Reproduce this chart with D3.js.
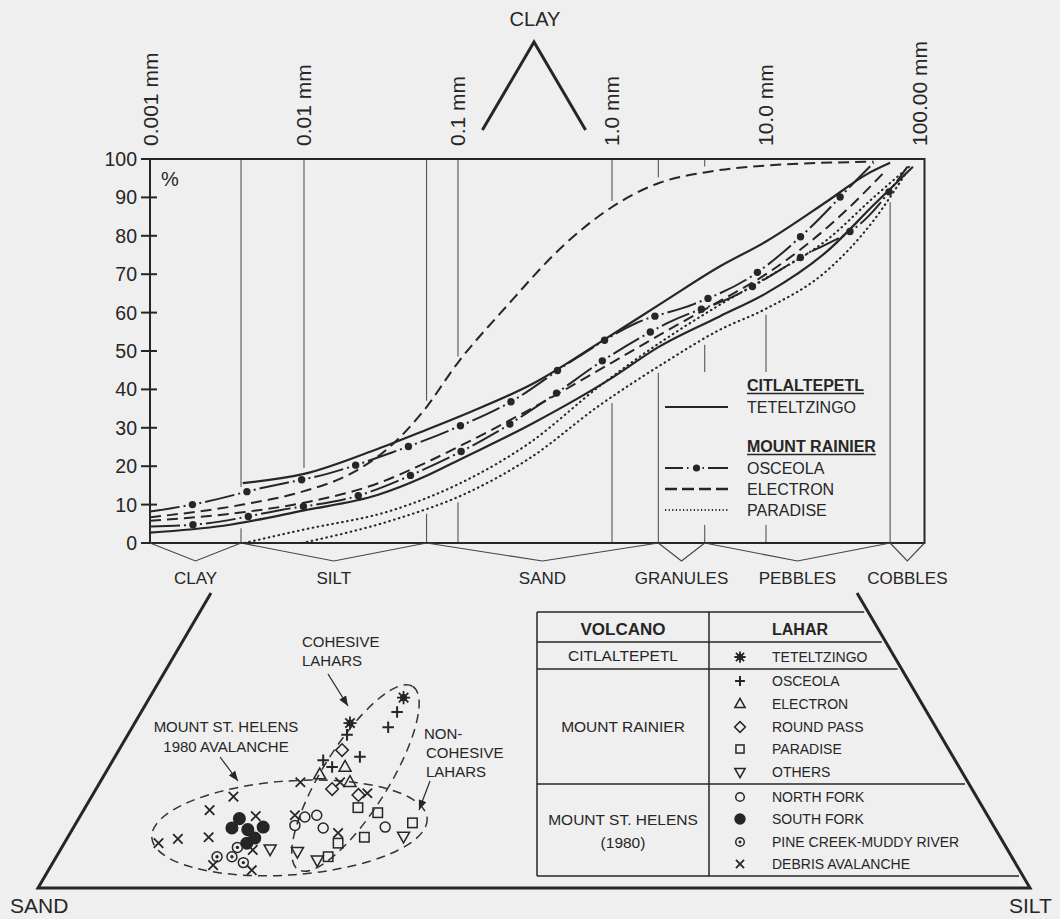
<!DOCTYPE html>
<html><head><meta charset="utf-8">
<script src="https://cdn.jsdelivr.net/npm/d3@7"></script>
<style>
html,body{margin:0;padding:0;background:#efefef;}
svg{display:block;font-family:"Liberation Sans",Arial,Helvetica,sans-serif;}
</style></head><body>
<svg id="chart" width="1060" height="919"></svg>
<script>
// ================= DATA =================
const sizeTicks = [0.001, 0.01, 0.1, 1, 10, 100];
const sizeTickLabels = ["0.001 mm", "0.01 mm", "0.1 mm", "1.0 mm", "10.0 mm", "100.00 mm"];
const percentTicks = [0, 10, 20, 30, 40, 50, 60, 70, 80, 90, 100];
const gradeClasses = ["CLAY", "SILT", "SAND", "GRANULES", "PEBBLES", "COBBLES"];
const gradeBounds = [0.001, 0.0039, 0.0625, 2, 4, 64, 107];
const gridSizes = [0.0039, 0.01, 0.0625, 0.1, 1, 2, 4, 10, 64];

// cumulative curves: [grain size mm, cumulative %]
const teteltzingoCurves = [
  [[0.004,15.6],[0.01,18],[0.03,24.5],[0.0625,29.5],[0.115,33.8],[0.31,41.6],[0.84,52.3],[2.2,63],[5,72],[10,78.5],[25,89],[45,96],[64,99]],
  [[0.001,2.7],[0.003,4.5],[0.01,8.5],[0.03,12.5],[0.0625,17.5],[0.1,21.5],[0.3,31],[1,43],[2,51],[5,59],[10,65],[25,76],[50,88],[90,98]]
];
const osceolaCurves = [
  [[0.001,8.2],[0.002,10.2],[0.0053,14.3],[0.0147,18.2],[0.038,23.7],[0.089,29.4],[0.23,37.2],[0.53,47],[1.44,57.3],[3.4,62.2],[8.1,69.5],[19,81.8],[37.6,94],[50,99]],
  [[0.001,4.3],[0.0022,5],[0.0071,8.6],[0.022,12.2],[0.061,19.3],[0.17,28.4],[0.4,38],[0.91,48],[2.3,57.3],[6.6,64.8],[17,74.5],[46,85],[83,98]]
];
const electronCurves = [
  [[0.001,6.7],[0.004,10],[0.01,13.5],[0.02,18],[0.036,25],[0.06,34.5],[0.1,47],[0.2,61],[0.5,78],[1,87.5],[2,93.7],[4,96.5],[10,98.3],[50,99.3]],
  [[0.001,5.8],[0.004,8],[0.01,10.5],[0.03,15.5],[0.0625,21],[0.1,25],[0.3,35],[1,47],[2,54],[5,63],[10,70],[30,85],[60,97]]
];
const paradiseCurves = [
  [[0.0041,0],[0.0097,3.4],[0.038,8.6],[0.114,16.4],[0.29,26],[0.84,41],[2.2,53],[5,62],[10,69],[25,79],[50,90],[85,98]],
  [[0.0097,0],[0.038,6],[0.114,13],[0.29,22],[0.84,36],[2.2,47],[5,55.5],[10,61],[25,71],[50,84],[80,96]]
];

// ternary points: [silt %, clay %]
const teteltzingoPts = [[25.6,22.5],[21.7,19.5]];
const osceolaPts = [[25.8,20.8],[25.8,19.0],[22.1,18.1],[24.7,15.5],[21.2,15.1],[22.5,14.3]];
const electronPts = [[21.7,13.4],[23.8,14.3],[25.2,12.5]];
const roundPassPts = [[22.5,16.3],[23.8,11.7],[26.8,11.0]];
const paradisePts = [[27.5,9.5],[29.8,8.9],[33.9,7.7],[29.9,6.0],[27.6,5.3],[27.4,3.7]];
const othersPts = [[33.8,6.1],[21.1,4.6],[24.0,4.3],[26.5,3.3]];
const northForkPts = [[22.7,8.4],[23.8,8.6],[22.2,7.4],[25.2,7.1],[31.4,7.2]];
const southForkPts = [[16.2,8.2],[16.0,7.1],[17.7,6.9],[19.1,7.2],[18.9,5.9],[18.4,5.3]];
const pineCreekPts = [[17.7,4.8],[16.2,3.7],[17.7,3.7],[19.2,3.0]];
const avalanchePts = [[9.5,5.3],[11.2,5.8],[12.7,9.2],[14.3,10.8],[20.2,12.5],[17.7,8.5],[14.2,6.0],[21.6,8.6],[19.4,4.5],[16.3,2.7],[20.5,2.1],[24.2,12.5],[27.6,11.2],[27.0,6.5]];

const tableVolcanoes = ["CITLALTEPETL", "MOUNT RAINIER", "MOUNT ST. HELENS"];
const tableLahars = ["TETELTZINGO","OSCEOLA","ELECTRON","ROUND PASS","PARADISE","OTHERS","NORTH FORK","SOUTH FORK","PINE CREEK-MUDDY RIVER","DEBRIS  AVALANCHE"];
const tableSymbols = ["star","plus","tri","diamond","square","tridown","circle","disc","bull","x"];

// ================= DRAW =================
const ink = "#262626";
const svg = d3.select("#chart");
const x = d3.scaleLog().domain([0.001, 107]).range([150, 924.5]);
const y = d3.scaleLinear().domain([0, 100]).range([543, 159]);

// top size labels (rotated)
svg.append("g").selectAll("text").data(sizeTicks).join("text")
  .attr("transform", d => `translate(${x(d) + 7.5},146) rotate(-90)`)
  .attr("font-size", 21).attr("fill", ink)
  .text((d, i) => sizeTickLabels[i]);

// grid lines with gaps around curve bundle and legend
const allCurves = [...teteltzingoCurves, ...osceolaCurves, ...electronCurves, ...paradiseCurves];
function valAt(c, m) {
  if (m < c[0][0] || m > c[c.length - 1][0]) return null;
  for (let i = 1; i < c.length; i++) {
    if (m <= c[i][0]) {
      const a = c[i - 1], b = c[i];
      const t = (Math.log10(m) - Math.log10(a[0])) / (Math.log10(b[0]) - Math.log10(a[0]));
      return a[1] + t * (b[1] - a[1]);
    }
  }
  return c[c.length - 1][1];
}
const legendBox = {x0: 662, x1: 885, y0: 372, y1: 525};
const gridG = svg.append("g");
gridSizes.forEach(g => {
  const vx = x(g);
  const vals = allCurves.map(c => valAt(c, g)).filter(v => v !== null);
  let segs = [[y(100), y(0)]];
  if (vals.length) segs = [[y(100), y(d3.max(vals)) - 6], [y(d3.min(vals)) + 6, y(0)]];
  if (vx > legendBox.x0 && vx < legendBox.x1) {
    segs = segs.flatMap(([a, b]) => {
      const out = [];
      if (a < legendBox.y0) out.push([a, Math.min(b, legendBox.y0)]);
      if (b > legendBox.y1) out.push([Math.max(a, legendBox.y1), b]);
      return out;
    });
  }
  segs.filter(s => s[1] - s[0] > 1).forEach(s => {
    gridG.append("line").attr("x1", vx).attr("x2", vx).attr("y1", s[0]).attr("y2", s[1])
      .attr("stroke", "#555").attr("stroke-width", 1.1);
  });
});

// frame
svg.append("rect").attr("x", x(0.001)).attr("y", y(100))
  .attr("width", x(107) - x(0.001)).attr("height", y(0) - y(100))
  .attr("fill", "none").attr("stroke", ink).attr("stroke-width", 2);

// y axis ticks
const yt = svg.append("g");
percentTicks.forEach(t => {
  yt.append("line").attr("x1", 141).attr("x2", 157).attr("y1", y(t)).attr("y2", y(t))
    .attr("stroke", ink).attr("stroke-width", 2);
  yt.append("text").attr("x", 137).attr("y", y(t)).attr("dy", "0.36em")
    .attr("text-anchor", "end").attr("font-size", 19.5).attr("fill", ink).text(t);
});
svg.append("text").attr("x", 161).attr("y", 186).attr("font-size", 20).attr("fill", ink).text("%");

// grade brackets & labels
const gb = svg.append("g");
gradeClasses.forEach((name, i) => {
  const a = x(gradeBounds[i]), b = x(gradeBounds[i + 1]), m = (a + b) / 2;
  gb.append("path").attr("d", `M${a},${y(0)}L${m},561L${b},${y(0)}`)
    .attr("fill", "none").attr("stroke", "#444").attr("stroke-width", 1.1);
  gb.append("text").attr("x", m).attr("y", 584).attr("text-anchor", "middle")
    .attr("font-size", 17).attr("fill", ink).text(name);
});

// curves
const line = d3.line().x(d => x(d[0])).y(d => y(d[1])).curve(d3.curveMonotoneX);
const styles = {
  solid: {dash: null, w: 2.2, cap: "butt"},
  osceola: {dash: "30,4,2,14,2,4", w: 2, cap: "butt"},
  electron: {dash: "11,6", w: 2, cap: "butt"},
  paradise: {dash: "0.6,4.4", w: 2.1, cap: "round"}
};
const cg = svg.append("g");
function drawCurves(curves, st) {
  return curves.map(c => cg.append("path").attr("d", line(c)).attr("fill", "none")
    .attr("stroke", ink).attr("stroke-width", st.w).attr("stroke-dasharray", st.dash)
    .attr("stroke-linecap", st.cap).node());
}
drawCurves(paradiseCurves, styles.paradise);
drawCurves(electronCurves, styles.electron);
drawCurves(teteltzingoCurves, styles.solid);
const oNodes = drawCurves(osceolaCurves, styles.osceola);
oNodes.forEach(n => {
  const L = n.getTotalLength();
  for (let d = 43; d < L - 4; d += 56) {
    const p = n.getPointAtLength(d);
    cg.append("circle").attr("cx", p.x).attr("cy", p.y).attr("r", 3.7).attr("fill", ink);
  }
});

// in-plot legend
const lg = svg.append("g").attr("fill", ink);
function heading(txt, yb) {
  const t = lg.append("text").attr("x", 747).attr("y", yb).attr("font-size", 16)
    .attr("font-weight", "bold").text(txt);
  const w = t.node().getComputedTextLength();
  lg.append("line").attr("x1", 747).attr("x2", 747 + w).attr("y1", yb + 2.5).attr("y2", yb + 2.5)
    .attr("stroke", ink).attr("stroke-width", 1.6);
}
function item(txt, yb, st, withDot) {
  const ly = yb - 6;
  lg.append("line").attr("x1", 665).attr("x2", 728).attr("y1", ly).attr("y2", ly)
    .attr("stroke", ink).attr("stroke-width", st.w).attr("stroke-dasharray", st.dash)
    .attr("stroke-linecap", st.cap);
  if (withDot) lg.append("circle").attr("cx", 696.5).attr("cy", ly).attr("r", 3.6);
  lg.append("text").attr("x", 747).attr("y", yb).attr("font-size", 16).text(txt);
}
heading("CITLALTEPETL", 391);
item("TETELTZINGO", 413, styles.solid, false);
heading("MOUNT RAINIER", 452);
item("OSCEOLA", 474, {dash: "18,4,1.5,14,1.5,4,22", w: 2.2, cap: "butt"}, true);
item("ELECTRON", 495, {dash: "12,5", w: 2.4, cap: "butt"}, false);
item("PARADISE", 516, {dash: "1.2,2.4", w: 2, cap: "butt"}, false);

// ================= TERNARY =================
const V = {sand: [38, 888], silt: [1030, 888], clay: [534, 42]};
function proj(silt, clay) {
  const sand = 100 - silt - clay;
  return [(sand * V.sand[0] + silt * V.silt[0] + clay * V.clay[0]) / 100,
          (sand * V.sand[1] + silt * V.silt[1] + clay * V.clay[1]) / 100];
}
const clayAtY = yy => (V.sand[1] - yy) / (V.sand[1] - V.clay[1]) * 100;
const tg = svg.append("g");
const cLow = clayAtY(593), cTop = clayAtY(130);
const Lb = proj(0, cLow), Rb = proj(100 - cLow, cLow);
const Lt = proj(0, cTop), Rt = proj(100 - cTop, cTop);
tg.append("path").attr("d", `M${Lb}L${V.sand}L${V.silt}L${Rb}`)
  .attr("fill", "none").attr("stroke", ink).attr("stroke-width", 3).attr("stroke-linejoin", "miter");
tg.append("path").attr("d", `M${Lt}L${V.clay}L${Rt}`)
  .attr("fill", "none").attr("stroke", ink).attr("stroke-width", 3);
svg.append("text").attr("x", 535).attr("y", 26).attr("text-anchor", "middle")
  .attr("font-size", 20).attr("fill", ink).text("CLAY");
svg.append("text").attr("x", 10).attr("y", 913).attr("font-size", 21).attr("fill", ink).text("SAND");
svg.append("text").attr("x", 1009).attr("y", 913).attr("font-size", 21).attr("fill", ink).text("SILT");

// ellipses (annotation)
function ellipse(center, rx, ry, rot) {
  const [cx, cy] = proj(center[0], center[1]);
  tg.append("ellipse").attr("cx", 0).attr("cy", 0).attr("rx", rx).attr("ry", ry)
    .attr("transform", `translate(${cx},${cy}) rotate(${rot})`)
    .attr("fill", "none").attr("stroke", "#333").attr("stroke-width", 1.5)
    .attr("stroke-dasharray", "9,6");
}
ellipse([21.8, 7.1], 138, 47, -4);
ellipse([25.5, 13.0], 108, 33, -58);

// symbols
function symbol(g, type, cx, cy, k) {
  const r = 5 * k;
  const s = g.append("g").attr("transform", `translate(${cx},${cy})`)
    .attr("stroke", ink).attr("fill", "none").attr("stroke-width", 1.5);
  switch (type) {
    case "star":
      s.append("path").attr("d", `M${-1.25*r},0H${1.25*r}M0,${-1.25*r}V${1.25*r}M${-0.9*r},${-0.9*r}L${0.9*r},${0.9*r}M${-0.9*r},${0.9*r}L${0.9*r},${-0.9*r}`).attr("stroke-width", 1.8);
      s.append("circle").attr("r", 0.55 * r).attr("fill", ink); break;
    case "plus":
      s.append("path").attr("d", `M${-1.1*r},0H${1.1*r}M0,${-1.1*r}V${1.1*r}`).attr("stroke-width", 2); break;
    case "tri":
      s.append("path").attr("d", `M0,${-1.25*r}L${1.15*r},${0.8*r}L${-1.15*r},${0.8*r}Z`); break;
    case "tridown":
      s.append("path").attr("d", `M0,${1.25*r}L${1.15*r},${-0.8*r}L${-1.15*r},${-0.8*r}Z`); break;
    case "diamond":
      s.append("path").attr("d", `M0,${-1.2*r}L${1.2*r},0L0,${1.2*r}L${-1.2*r},0Z`); break;
    case "square":
      s.append("rect").attr("x", -0.9*r).attr("y", -0.9*r).attr("width", 1.8*r).attr("height", 1.8*r); break;
    case "circle":
      s.append("circle").attr("r", 0.95 * r); break;
    case "disc":
      s.append("circle").attr("r", 1.1 * r).attr("fill", ink); break;
    case "bull":
      s.append("circle").attr("r", 0.95 * r);
      s.append("circle").attr("r", 0.32 * r).attr("fill", ink).attr("stroke", "none"); break;
    case "x":
      s.append("path").attr("d", `M${-0.9*r},${-0.9*r}L${0.9*r},${0.9*r}M${-0.9*r},${0.9*r}L${0.9*r},${-0.9*r}`).attr("stroke-width", 1.8); break;
  }
}
const ptGroups = [
  [othersPts, "tridown"], [paradisePts, "square"], [northForkPts, "circle"],
  [pineCreekPts, "bull"], [southForkPts, "disc"], [avalanchePts, "x"],
  [roundPassPts, "diamond"], [electronPts, "tri"], [osceolaPts, "plus"], [teteltzingoPts, "star"]
];
const pg = svg.append("g");
ptGroups.forEach(([pts, type]) => pts.forEach(p => {
  const [px, py] = proj(p[0], p[1]);
  symbol(pg, type, px, py, 1.05);
}));

// annotations
const defs = svg.append("defs");
defs.append("marker").attr("id", "ah").attr("viewBox", "0 0 10 8").attr("refX", 10).attr("refY", 4)
  .attr("markerWidth", 10).attr("markerHeight", 8).attr("markerUnits", "userSpaceOnUse").attr("orient", "auto")
  .append("path").attr("d", "M0,0L10,4L0,8Z").attr("fill", ink);
const ag = svg.append("g").attr("fill", ink).attr("font-size", 15);
[["COHESIVE", 302, 647], ["LAHARS", 302, 666]].forEach(t => ag.append("text").attr("x", t[1]).attr("y", t[2]).text(t[0]));
[["MOUNT ST. HELENS", 226, 732], ["1980 AVALANCHE", 226, 752]].forEach(t => ag.append("text").attr("x", t[1]).attr("y", t[2]).attr("text-anchor", "middle").text(t[0]));
[["NON-", 424, 739], ["COHESIVE", 426, 758], ["LAHARS", 426, 777]].forEach(t => ag.append("text").attr("x", t[1]).attr("y", t[2]).text(t[0]));
[[328, 674, 348, 706], [220, 757, 238, 781], [430, 781, 419, 810]].forEach(a => {
  ag.append("line").attr("x1", a[0]).attr("y1", a[1]).attr("x2", a[2]).attr("y2", a[3])
    .attr("stroke", ink).attr("stroke-width", 1.2).attr("marker-end", "url(#ah)");
});

// table legend
const tb = svg.append("g");
const legX = yy => V.clay[0] + (V.silt[0] - V.clay[0]) * (yy - V.clay[1]) / (V.silt[1] - V.clay[1]) - 4;
const tableLeft = 537, tableDiv = 709;
[612, 642, 669, 784, 876].forEach(yy => tb.append("line").attr("x1", tableLeft).attr("x2", legX(yy))
  .attr("y1", yy).attr("y2", yy).attr("stroke", ink).attr("stroke-width", 1.5));
[tableLeft, tableDiv].forEach(xx => tb.append("line").attr("x1", xx).attr("x2", xx).attr("y1", 612).attr("y2", 876)
  .attr("stroke", ink).attr("stroke-width", 1.5));
tb.append("text").attr("x", 623).attr("y", 635).attr("text-anchor", "middle").attr("font-size", 17)
  .attr("font-weight", "bold").attr("fill", ink).text("VOLCANO");
tb.append("text").attr("x", 772).attr("y", 635).attr("font-size", 16)
  .attr("font-weight", "bold").attr("fill", ink).text("LAHAR");
const volRows = [[tableVolcanoes[0], 661], [tableVolcanoes[1], 732], [tableVolcanoes[2], 825], ["(1980)", 848]];
volRows.forEach(v => tb.append("text").attr("x", 623).attr("y", v[1]).attr("text-anchor", "middle")
  .attr("font-size", 15.5).attr("fill", ink).text(v[0]));
const rowBase = [662, 686, 709, 732, 754, 777, 802, 824, 847, 869];
tableLahars.forEach((name, i) => {
  symbol(tb, tableSymbols[i], 740, rowBase[i] - 5, 0.9);
  tb.append("text").attr("x", 772).attr("y", rowBase[i]).attr("font-size", 14).attr("fill", ink).text(name);
});
</script>
</body></html>
